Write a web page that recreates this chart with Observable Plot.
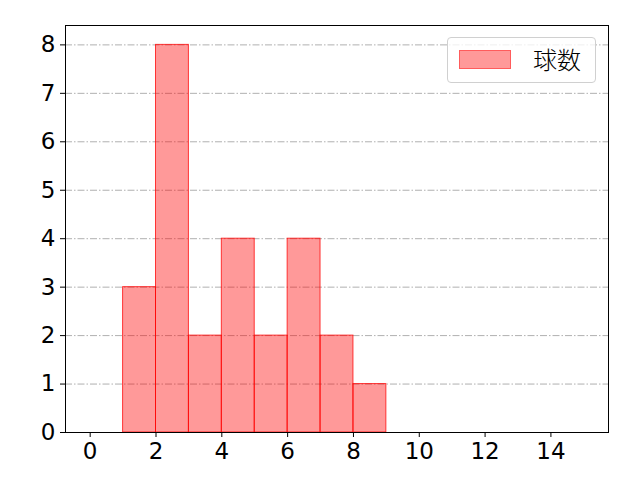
<!DOCTYPE html>
<html><head><meta charset="utf-8">
<script src="https://cdn.jsdelivr.net/npm/d3@7"></script>
<script src="https://cdn.jsdelivr.net/npm/@observablehq/plot@0.6"></script>
<style>
body{margin:0;background:#fff;}
#wrap{position:relative;width:640px;height:480px;font-family:"DejaVu Sans",sans-serif;}
#legend{position:absolute;left:447px;top:37px;width:149px;height:46px;border:1px solid #d0d0d0;border-radius:4px;background:rgba(255,255,255,0.8);box-sizing:border-box;}
#legend .sw{position:absolute;left:11px;top:12px;width:52px;height:19px;background:rgba(255,0,0,0.4);border:1px solid rgba(255,0,0,0.4);box-sizing:border-box;}
#legend .lb{position:absolute;left:85px;top:5px;font-size:24px;color:#000;line-height:32px;font-family:"Noto Sans CJK JP",sans-serif;font-weight:300;}
</style></head>
<body><div id="wrap"><div id="legend"><div class="sw"></div><div class="lb">球数</div></div></div>
<script>
const binStart = [1,2,3,4,5,6,7,8];
const binEnd = [2,3,4,5,6,7,8,9];
const counts = [3,8,2,4,2,4,2,1];
const xTicks = [0,2,4,6,8,10,12,14];
const yTicks = [0,1,2,3,4,5,6,7,8];
const seriesName = "球数";
const data = binStart.map((s,i)=>({x1:s,x2:binEnd[i],y:counts[i]}));
const chart = Plot.plot({
  width:640,height:480,
  marginLeft:65,marginRight:32,marginTop:25,marginBottom:48,
  style:{fontFamily:"'DejaVu Sans',sans-serif",color:"#000",background:"#fff"},
  x:{domain:[-0.75,15.75],ticks:xTicks,tickSize:5,label:null},
  y:{domain:[0,8.4],ticks:yTicks,tickSize:5,label:null},
  marks:[
    Plot.gridY(yTicks,{stroke:"#b0b0b0",strokeOpacity:1,strokeDasharray:"7,2,1.5,2",strokeWidth:1}),
    Plot.rectY(data,{x1:"x1",x2:"x2",y:"y",fill:"red",fillOpacity:0.4,stroke:"red",strokeOpacity:0.75,strokeWidth:1,inset:0}),
    Plot.frame({stroke:"#000",strokeWidth:1}),
    Plot.axisX({ticks:xTicks,tickSize:5,tickPadding:5,fontSize:23}),
    Plot.axisY({ticks:yTicks,tickSize:5,tickPadding:5,fontSize:23})
  ]
});
chart.style.position="absolute";chart.style.left="0";chart.style.top="0";
const wrap=document.getElementById("wrap");
wrap.insertBefore(chart,wrap.firstChild);
</script></body></html>
